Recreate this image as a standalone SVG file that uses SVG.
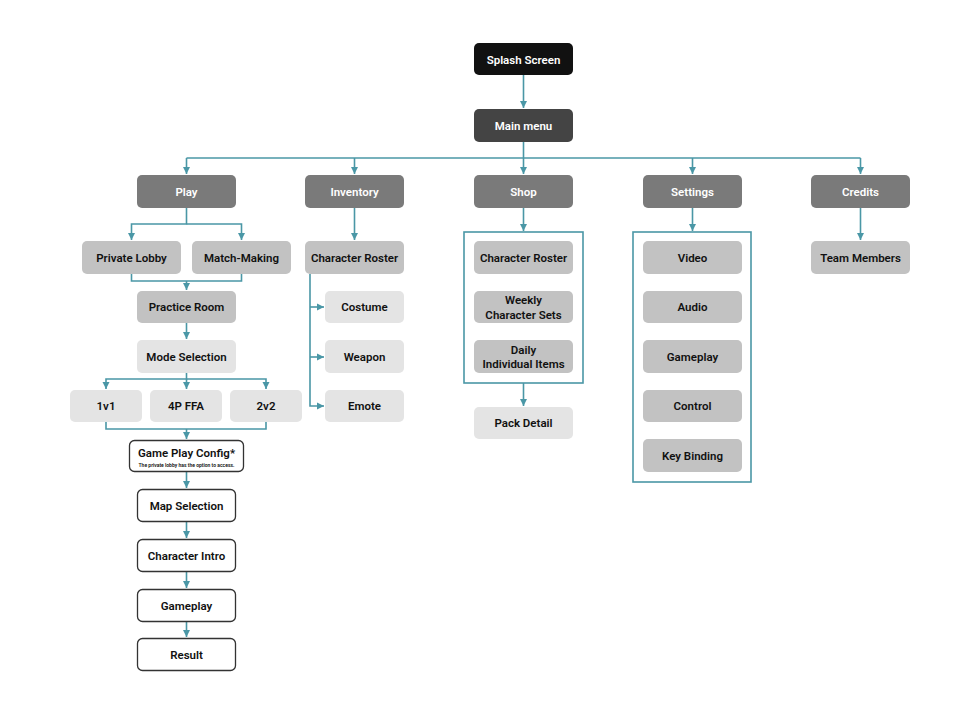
<svg xmlns="http://www.w3.org/2000/svg" width="980" height="714" viewBox="0 0 980 714">
<style>
.n rect{stroke:none}
.t{font-family:Roboto,"Liberation Sans",sans-serif;font-size:11.5px;font-weight:600;text-anchor:middle;dominant-baseline:central;fill:#111}
.w{fill:#fff}
.c0{fill:#111111}
.c1{fill:#444444}
.c2{fill:#7a7a7a}
.c3{fill:#c2c2c2}
.c4{fill:#e4e4e4}
.c5{fill:#fff;stroke:#333 !important;stroke-width:1.3}
.box{fill:none;stroke:#4a97a6;stroke-width:1.6}
.e{fill:none;stroke:#4a97a6;stroke-width:1.6}
</style>
<defs>
<marker id="a" markerUnits="userSpaceOnUse" markerWidth="8" markerHeight="8" viewBox="0 0 8 8" refX="7" refY="4" orient="auto">
<path d="M0,0.5 L7,4 L0,7.5 z" fill="#4a97a6"/>
</marker>
</defs>
<rect width="980" height="714" fill="#fff"/>

<g id="connectors">
<path class="e" d="M523.5,75 V108" marker-end="url(#a)"/>
<path class="e" d="M523.5,142 V174" marker-end="url(#a)"/>
<path class="e" d="M186.5,158 H860.5"/>
<path class="e" d="M186.5,158 V174" marker-end="url(#a)"/>
<path class="e" d="M354.5,158 V174" marker-end="url(#a)"/>
<path class="e" d="M692.5,158 V174" marker-end="url(#a)"/>
<path class="e" d="M860.5,158 V174" marker-end="url(#a)"/>
<path class="e" d="M186.5,208 V224 H131.5 V240" marker-end="url(#a)"/>
<path class="e" d="M186.5,224 H241.5 V240" marker-end="url(#a)"/>
<path class="e" d="M131.5,274 V281 H241.5 V274"/>
<path class="e" d="M186.5,281 V290" marker-end="url(#a)"/>
<path class="e" d="M186.5,323 V339" marker-end="url(#a)"/>
<path class="e" d="M186.5,373 V379 H106 V389" marker-end="url(#a)"/>
<path class="e" d="M186.5,379 V389" marker-end="url(#a)"/>
<path class="e" d="M186.5,379 H266 V389" marker-end="url(#a)"/>
<path class="e" d="M106,422 V429 H266 V422"/>
<path class="e" d="M186.5,429 V439" marker-end="url(#a)"/>
<path class="e" d="M186.5,472 V488" marker-end="url(#a)"/>
<path class="e" d="M186.5,522 V538" marker-end="url(#a)"/>
<path class="e" d="M186.5,571 V588" marker-end="url(#a)"/>
<path class="e" d="M186.5,621 V637" marker-end="url(#a)"/>
<path class="e" d="M354.5,208 V240" marker-end="url(#a)"/>
<path class="e" d="M310,274 V406 H324" marker-end="url(#a)"/>
<path class="e" d="M310,307 H324" marker-end="url(#a)"/>
<path class="e" d="M310,357 H324" marker-end="url(#a)"/>
<path class="e" d="M523.5,208 V231" marker-end="url(#a)"/>
<path class="e" d="M523.5,383 V406" marker-end="url(#a)"/>
<path class="e" d="M692.5,208 V231" marker-end="url(#a)"/>
<path class="e" d="M860.5,208 V240" marker-end="url(#a)"/>
</g>

<g id="shop-group-box"><rect class="box" x="464" y="232" width="119" height="151"/></g>
<g id="settings-group-box"><rect class="box" x="633" y="232" width="118" height="250"/></g>

<g id="splash" class="n"><rect class="c0" x="474" y="43" width="99" height="32" rx="5"/><text class="t w" x="523.5" y="59.5">Splash Screen</text></g>
<g id="mainmenu" class="n"><rect class="c1" x="474" y="109" width="99" height="33" rx="5"/><text class="t w" x="523.5" y="125.5">Main menu</text></g>

<g id="play" class="n"><rect class="c2" x="137" y="175" width="99" height="33" rx="5"/><text class="t w" x="186.5" y="191.5">Play</text></g>
<g id="inventory" class="n"><rect class="c2" x="305" y="175" width="99" height="33" rx="5"/><text class="t w" x="354.5" y="191.5">Inventory</text></g>
<g id="shop" class="n"><rect class="c2" x="474" y="175" width="99" height="33" rx="5"/><text class="t w" x="523.5" y="191.5">Shop</text></g>
<g id="settings" class="n"><rect class="c2" x="643" y="175" width="99" height="33" rx="5"/><text class="t w" x="692.5" y="191.5">Settings</text></g>
<g id="credits" class="n"><rect class="c2" x="811" y="175" width="99" height="33" rx="5"/><text class="t w" x="860.5" y="191.5">Credits</text></g>

<g id="private-lobby" class="n"><rect class="c3" x="82" y="241" width="99" height="33" rx="5"/><text class="t" x="131.5" y="257.5">Private Lobby</text></g>
<g id="match-making" class="n"><rect class="c3" x="192" y="241" width="99" height="33" rx="5"/><text class="t" x="241.5" y="257.5">Match-Making</text></g>
<g id="practice-room" class="n"><rect class="c3" x="137" y="291" width="99" height="32" rx="5"/><text class="t" x="186.5" y="307">Practice Room</text></g>
<g id="mode-selection" class="n"><rect class="c4" x="137" y="340" width="99" height="33" rx="5"/><text class="t" x="186.5" y="356.5">Mode Selection</text></g>
<g id="m1v1" class="n"><rect class="c4" x="70" y="390" width="72" height="32" rx="5"/><text class="t" x="106" y="406">1v1</text></g>
<g id="m4pffa" class="n"><rect class="c4" x="150" y="390" width="72" height="32" rx="5"/><text class="t" x="186" y="406">4P FFA</text></g>
<g id="m2v2" class="n"><rect class="c4" x="230" y="390" width="72" height="32" rx="5"/><text class="t" x="266" y="406">2v2</text></g>
<g id="game-play-config" class="n"><rect class="c5" x="129.5" y="440.5" width="114" height="31" rx="5"/><text class="t" x="186.5" y="452.5">Game Play Config*</text><text class="t" x="186.5" y="464.5" style="font-size:5px">The private lobby has the option to access.</text></g>
<g id="map-selection" class="n"><rect class="c5" x="137.5" y="489.5" width="98" height="32" rx="5"/><text class="t" x="186.5" y="505.5">Map Selection</text></g>
<g id="character-intro" class="n"><rect class="c5" x="137.5" y="539.5" width="98" height="32" rx="5"/><text class="t" x="186.5" y="555.5">Character Intro</text></g>
<g id="gameplay" class="n"><rect class="c5" x="137.5" y="589.5" width="98" height="32" rx="5"/><text class="t" x="186.5" y="605.5">Gameplay</text></g>
<g id="result" class="n"><rect class="c5" x="137.5" y="638.5" width="98" height="32" rx="5"/><text class="t" x="186.5" y="654.5">Result</text></g>

<g id="inv-character-roster" class="n"><rect class="c3" x="305" y="241" width="99" height="33" rx="5"/><text class="t" x="354.5" y="257.5">Character Roster</text></g>
<g id="costume" class="n"><rect class="c4" x="325" y="291" width="79" height="32" rx="5"/><text class="t" x="364.5" y="307">Costume</text></g>
<g id="weapon" class="n"><rect class="c4" x="325" y="340" width="79" height="33" rx="5"/><text class="t" x="364.5" y="356.5">Weapon</text></g>
<g id="emote" class="n"><rect class="c4" x="325" y="390" width="79" height="32" rx="5"/><text class="t" x="364.5" y="406">Emote</text></g>

<g id="shop-character-roster" class="n"><rect class="c3" x="474" y="241" width="99" height="33" rx="5"/><text class="t" x="523.5" y="257.5">Character Roster</text></g>
<g id="weekly" class="n"><rect class="c3" x="474" y="291" width="99" height="32" rx="5"/><text class="t" x="523.5" y="300">Weekly</text><text class="t" x="523.5" y="314.5">Character Sets</text></g>
<g id="daily" class="n"><rect class="c3" x="474" y="340" width="99" height="33" rx="5"/><text class="t" x="523.5" y="349.5">Daily</text><text class="t" x="523.5" y="364">Individual Items</text></g>
<g id="pack-detail" class="n"><rect class="c4" x="474" y="407" width="99" height="32" rx="5"/><text class="t" x="523.5" y="423">Pack Detail</text></g>

<g id="video" class="n"><rect class="c3" x="643" y="241" width="99" height="33" rx="5"/><text class="t" x="692.5" y="257.5">Video</text></g>
<g id="audio" class="n"><rect class="c3" x="643" y="291" width="99" height="32" rx="5"/><text class="t" x="692.5" y="307">Audio</text></g>
<g id="set-gameplay" class="n"><rect class="c3" x="643" y="340" width="99" height="33" rx="5"/><text class="t" x="692.5" y="356.5">Gameplay</text></g>
<g id="control" class="n"><rect class="c3" x="643" y="390" width="99" height="32" rx="5"/><text class="t" x="692.5" y="406">Control</text></g>
<g id="key-binding" class="n"><rect class="c3" x="643" y="439" width="99" height="33" rx="5"/><text class="t" x="692.5" y="455.5">Key Binding</text></g>

<g id="team-members" class="n"><rect class="c3" x="811" y="241" width="99" height="33" rx="5"/><text class="t" x="860.5" y="257.5">Team Members</text></g>
</svg>
